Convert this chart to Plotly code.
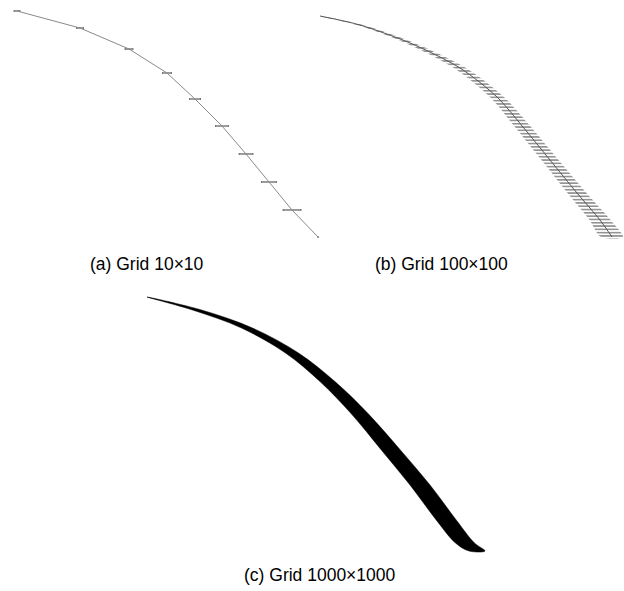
import plotly.graph_objects as go

W, H = 624, 591

# ---- solution path at three grid resolutions (local units, y measured downward) ----
# (a) Grid 10x10: nodes along the path and the horizontal spread at each node
a_x = [0, 63, 112, 150, 178, 205, 229, 252, 275, 301]
a_y = [0, 17, 38, 62, 88, 115, 143, 171, 199, 226]
a_spread = [3, 3.5, 4, 4.5, 5.5, 6.5, 7, 7.5, 9, 0]

# (b) Grid 100x100: path anchors and horizontal spread
b_x = [0, 40, 90, 140, 177, 203, 230, 257, 280, 292]
b_y = [0, 9, 27, 52, 81, 111, 144, 177, 204, 221]
b_spread = [2, 3, 4.5, 6, 7, 8, 8.5, 9.5, 10.5, 11]

# (c) Grid 1000x1000: path anchors and horizontal spread
c_x = [0, 50, 100, 145, 181, 213, 243, 273, 300, 318, 330]
c_y = [0, 13, 31, 56, 85, 117, 152, 188, 224, 246, 254]
c_spread = [0, 4.5, 5.5, 6.5, 7.5, 8.5, 9.5, 10, 10, 9.5, 8]

labels = ["(a) Grid 10\u00d710", "(b) Grid 100\u00d7100", "(c) Grid 1000\u00d71000"]


def band(xs, ys, spread):
    """Closed outline covering the horizontal spread around a path."""
    left = [x - s for x, s in zip(xs, spread)]
    right = [x + s for x, s in zip(xs, spread)]
    return left + right[::-1], list(ys) + list(ys)[::-1]


def panel(box, origin):
    """Axis domains/ranges giving 1 data unit = 1 px inside a pixel box."""
    x0, y0, x1, y1 = box
    ox, oy = origin
    xdom = [x0 / W, x1 / W]
    ydom = [1 - y1 / H, 1 - y0 / H]
    xr = [x0 - ox, x1 - ox]
    yr = [y1 - oy, y0 - oy]
    return xdom, ydom, xr, yr


fig = go.Figure()

# (a) coarse grid: thin path with spread bars at each node
fig.add_trace(go.Scatter(
    x=a_x, y=a_y, mode="lines",
    line=dict(color="#8a8a8a", width=1),
    error_x=dict(type="data", array=a_spread, symmetric=True,
                 color="#3a3a3a", thickness=1, width=0.6),
    xaxis="x", yaxis="y", hoverinfo="skip", cliponaxis=False))

# (b) medium grid: hatched spread band plus the path
bx, by = band(b_x, b_y, b_spread)
fig.add_trace(go.Scatter(
    x=bx, y=by, mode="lines", fill="toself",
    line=dict(width=0, shape="spline", smoothing=0.8),
    fillcolor="rgba(255,255,255,0)",
    fillpattern=dict(shape="-", size=3.3, solidity=0.45,
                     fgcolor="#111111", bgcolor="rgba(255,255,255,0)"),
    xaxis="x2", yaxis="y2", hoverinfo="skip"))
fig.add_trace(go.Scatter(
    x=b_x, y=b_y, mode="lines",
    line=dict(color="#555555", width=1, shape="spline", smoothing=0.8),
    xaxis="x2", yaxis="y2", hoverinfo="skip"))

# (c) fine grid: the spread merges into a solid band
cx, cy = band(c_x, c_y, c_spread)
fig.add_trace(go.Scatter(
    x=cx, y=cy, mode="lines", fill="toself",
    line=dict(width=0.5, color="black", shape="spline", smoothing=1.0),
    fillcolor="black",
    xaxis="x3", yaxis="y3", hoverinfo="skip"))

boxes = [((0, 0, 332, 250), (17, 11)),
         ((312, 0, 624, 250), (320, 16)),
         ((0, 280, 624, 565), (147, 297))]
layout_axes = {}
for i, (box, origin) in enumerate(boxes, start=1):
    xdom, ydom, xr, yr = panel(box, origin)
    sfx = "" if i == 1 else str(i)
    layout_axes["xaxis" + sfx] = dict(domain=xdom, range=xr, visible=False,
                                      anchor="y" + sfx, fixedrange=True)
    layout_axes["yaxis" + sfx] = dict(domain=ydom, range=yr, visible=False,
                                      anchor="x" + sfx, fixedrange=True)

label_pos = [(147 / W, 1 - 264 / H), (441 / W, 1 - 264 / H), (320 / W, 1 - 575 / H)]
annotations = [dict(text=t, x=px, y=py, xref="paper", yref="paper",
                    xanchor="center", yanchor="middle", showarrow=False,
                    font=dict(family="Liberation Sans, Arial", size=17.5, color="black"))
               for t, (px, py) in zip(labels, label_pos)]

fig.update_layout(
    width=W, height=H, margin=dict(l=0, r=0, t=0, b=0),
    paper_bgcolor="white", plot_bgcolor="rgba(0,0,0,0)",
    showlegend=False, annotations=annotations, **layout_axes)

fig.write_html("out.html", config={"displayModeBar": False})
